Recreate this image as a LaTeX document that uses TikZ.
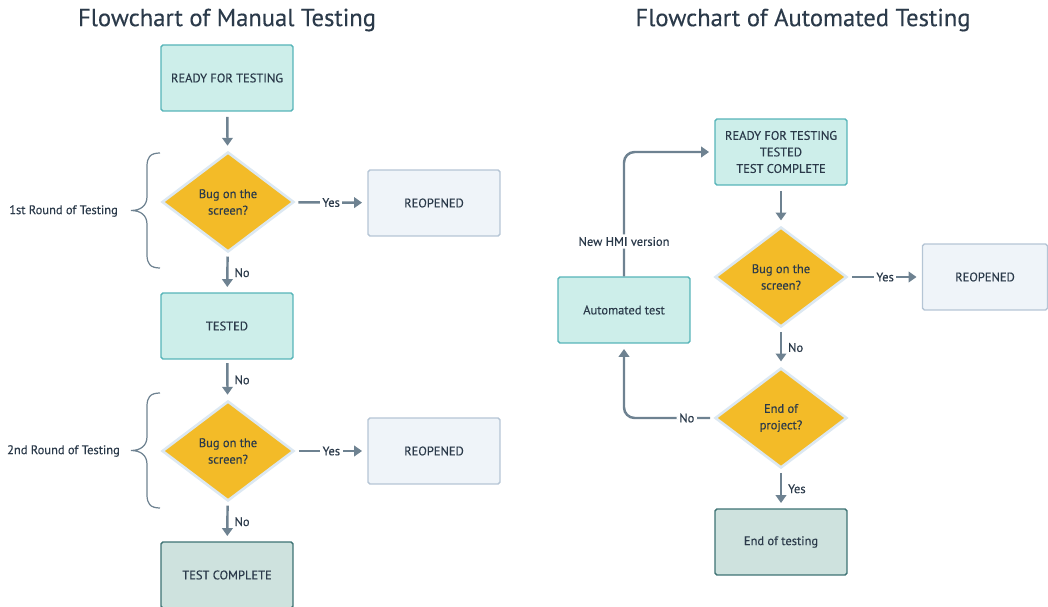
\documentclass[tikz,border=0pt]{standalone}
\usepackage{fontspec}
\setmainfont{PT Sans}
\newfontfamily\medfont{PT Sans}[FakeBold=0.35]
\usepackage{xcolor}
\usetikzlibrary{shapes.geometric, arrows.meta, positioning}

\definecolor{inkdark}{HTML}{2B3A4A}
\definecolor{flowline}{HTML}{6E8291}
\definecolor{tealfill}{HTML}{CDEEEA}
\definecolor{tealedge}{HTML}{56B4B8}
\definecolor{donefill}{HTML}{CEE2DE}
\definecolor{doneedge}{HTML}{3D7273}
\definecolor{openfill}{HTML}{EFF4F9}
\definecolor{openedge}{HTML}{B5C5D5}
\definecolor{askfill}{HTML}{F3BB28}
\definecolor{askedge}{HTML}{DCE8F2}

\tikzset{
  every node/.style={text=inkdark, font=\medfont\fontsize{7.1}{9.4}\selectfont},
  stage/.style={rectangle, rounded corners=1pt, minimum width=2.64cm, minimum height=1.32cm,
    align=center, fill=tealfill, draw=tealedge, line width=0.8pt},
  done/.style={stage, fill=donefill, draw=doneedge},
  reopen/.style={stage, fill=openfill, draw=openedge},
  ask/.style={diamond, aspect=1.32, minimum width=2.64cm, minimum height=2cm, inner sep=0pt,
    align=center, fill=askfill, draw=askedge, line width=1.5pt},
  heading/.style={font=\medfont\fontsize{14}{16}\selectfont},
  flow/.style={draw=flowline, line width=1.4pt, -{Triangle[length=4.5pt, width=6pt]}},
  tag/.style={fill=white, inner sep=1.5pt},
  bracket/.style={draw=flowline, line width=0.7pt},
}

\begin{document}
\begin{tikzpicture}[x=0.02cm, y=-0.02cm]
  \useasboundingbox (0,0) rectangle (1048,607);

  % manual testing
  \node[heading] (titleM) at (227,20) {Flowchart of Manual Testing};
  \node[stage] (ready) at (227,78) {READY FOR TESTING};
  \node[ask] (bug1) at (228,202) {Bug on the\\screen?};
  \node[reopen] (reo1) at (434,203) {REOPENED};
  \node[stage] (tested) at (227,326) {TESTED};
  \node[ask] (bug2) at (228,451) {Bug on the\\screen?};
  \node[reopen] (reo2) at (434,451) {REOPENED};
  \node[done] (complete) at (227,575) {TEST COMPLETE};

  \draw[flow, shorten <=3pt, shorten >=3pt] (ready) -- (bug1);
  \draw[flow, shorten <=2pt, shorten >=3pt] (bug1) -- (reo1) node[midway, tag] {Yes};
  \draw[flow, shorten <=2pt, shorten >=3pt] (bug1) -- (tested) node[midway, right] {No};
  \draw[flow, shorten <=2pt, shorten >=3pt] (tested) -- (bug2) node[midway, right] {No};
  \draw[flow, shorten <=2pt, shorten >=3pt] (bug2) -- (reo2) node[midway, tag] {Yes};
  \draw[flow, shorten <=2pt, shorten >=3pt] (bug2) -- (complete) node[midway, right] {No};

  % rounds of testing: a curly bracket round each diamond
  \foreach \yc in {210.5, 450.5}
    \draw[bracket] (160,\yc-57.5) .. controls (150,\yc-57.5) and (147,\yc-53) .. (147,\yc-44)
      -- (147,\yc-14) .. controls (147,\yc-5) and (141,\yc) .. (131,\yc)
      .. controls (141,\yc) and (147,\yc+5) .. (147,\yc+14)
      -- (147,\yc+44) .. controls (147,\yc+53) and (150,\yc+57.5) .. (160,\yc+57.5);
  \node[anchor=east] (round1) at (124,211) {1st Round of Testing};
  \node[anchor=east] (round2) at (126,451) {2nd Round of Testing};

  % automated testing
  \node[heading] (titleA) at (803,20) {Flowchart of Automated Testing};
  \node[stage] (cycle) at (781,152) {READY FOR TESTING\\TESTED\\TEST COMPLETE};
  \node[ask] (bug3) at (781,277) {Bug on the\\screen?};
  \node[reopen, minimum width=2.5cm] (reo3) at (985,277) {REOPENED};
  \node[ask] (endp) at (781,418) {End of\\project?};
  \node[done] (finish) at (781,542) {End of testing};
  \node[stage] (auto) at (624,310) {Automated test};

  \draw[flow, shorten <=3pt, shorten >=3pt] (cycle) -- (bug3);
  \draw[flow, shorten <=2pt, shorten >=3pt] (bug3) -- (reo3) node[midway, tag] {Yes};
  \draw[flow, shorten <=2pt, shorten >=3pt] (bug3) -- (endp) node[midway, right] {No};
  \draw[flow, shorten <=2pt, shorten >=3pt] (endp) -- (finish) node[midway, right] {Yes};
  \draw[flow, rounded corners=6pt, shorten >=3pt] (auto.north) |- (cycle.west)
    node[pos=0.14, tag] {New HMI version};
  \draw[flow, rounded corners=6pt, shorten <=2pt, shorten >=3pt] (endp.west) -| (auto.south)
    node[pos=0.15, tag] {No};
\end{tikzpicture}
\end{document}
